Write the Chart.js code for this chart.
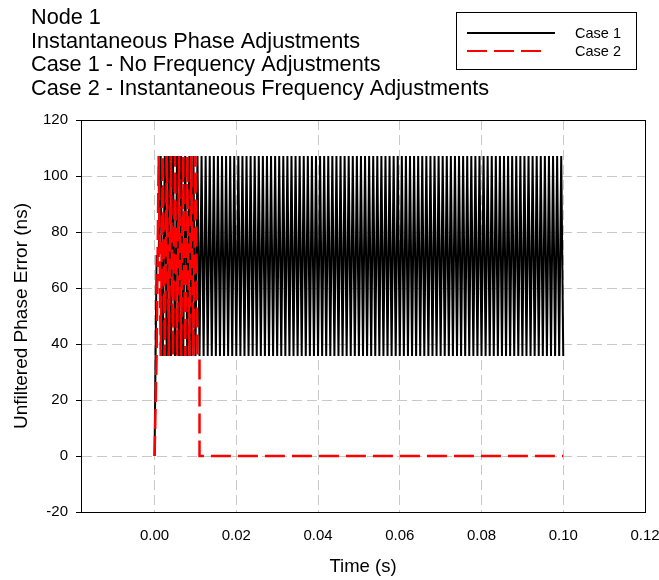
<!DOCTYPE html>
<html>
<head>
<meta charset="utf-8">
<script src="https://cdn.jsdelivr.net/npm/chart.js@4.4.1/dist/chart.umd.min.js"></script>
<style>
  html, body { margin: 0; padding: 0; background: #fff; }
  #wrap { position: relative; width: 659px; height: 580px; }
</style>
</head>
<body>
<div id="wrap"><canvas id="chart"></canvas></div>
<script>
/* ---- Header text and legend entries ---- */
const TITLE_LINES = [
  "Node 1",
  "Instantaneous Phase Adjustments",
  "Case 1 - No Frequency Adjustments",
  "Case 2 - Instantaneous Frequency Adjustments"
];
const LEGEND_LABELS = ["Case 1", "Case 2"];

/* ---- Axis ticks ---- */
const X_TICKS = [0, 0.02, 0.04, 0.06, 0.08, 0.10, 0.12];
const Y_TICKS = [-20, 0, 20, 40, 60, 80, 100, 120];

/* ---- Case 1: start-up samples, then error bouncing between two levels (time in ms, error in ns) ---- */
const CASE1_START_MS = [0, 0.5, 1.0];
const CASE1_START_NS = [0, 71.4, 71.4];
const CASE1_HIGH_NS = 107.1;
const CASE1_LOW_NS = 35.7;
const CASE1_HIGH_MS = [
  1.5, 2.5, 3.5, 4.5, 5.5, 6.5, 7.5, 8.5, 9.5, 10.5,
  11.5, 12.5, 13.5, 14.5, 15.5, 16.5, 17.5, 18.5, 19.5, 20.5,
  21.5, 22.5, 23.5, 24.5, 25.5, 26.5, 27.5, 28.5, 29.5, 30.5,
  31.5, 32.5, 33.5, 34.5, 35.5, 36.5, 37.5, 38.5, 39.5, 40.5,
  41.5, 42.5, 43.5, 44.5, 45.5, 46.5, 47.5, 48.5, 49.5, 50.5,
  51.5, 52.5, 53.5, 54.5, 55.5, 56.5, 57.5, 58.5, 59.5, 60.5,
  61.5, 62.5, 63.5, 64.5, 65.5, 66.5, 67.5, 68.5, 69.5, 70.5,
  71.5, 72.5, 73.5, 74.5, 75.5, 76.5, 77.5, 78.5, 79.5, 80.5,
  81.5, 82.5, 83.5, 84.5, 85.5, 86.5, 87.5, 88.5, 89.5, 90.5,
  91.5, 92.5, 93.5, 94.5, 95.5, 96.5, 97.5, 98.5, 99.5
];
const CASE1_LOW_MS = [
  2, 3, 4, 5, 6, 7, 8, 9, 10, 11,
  12, 13, 14, 15, 16, 17, 18, 19, 20, 21,
  22, 23, 24, 25, 26, 27, 28, 29, 30, 31,
  32, 33, 34, 35, 36, 37, 38, 39, 40, 41,
  42, 43, 44, 45, 46, 47, 48, 49, 50, 51,
  52, 53, 54, 55, 56, 57, 58, 59, 60, 61,
  62, 63, 64, 65, 66, 67, 68, 69, 70, 71,
  72, 73, 74, 75, 76, 77, 78, 79, 80, 81,
  82, 83, 84, 85, 86, 87, 88, 89, 90, 91,
  92, 93, 94, 95, 96, 97, 98, 99, 100
];
const CASE1_END_MS = [];
const CASE1_END_NS = [];

/* ---- Case 2: same bouncing until the frequency is corrected, then flat at zero ---- */
const CASE2_START_MS = [0, 0.5];
const CASE2_START_NS = [0, 35.7];
const CASE2_HIGH_NS = 107.1;
const CASE2_LOW_NS = 35.7;
const CASE2_HIGH_MS = [1, 2, 3, 4, 5, 6, 7, 8, 9, 10];
const CASE2_LOW_MS = [1.5, 2.5, 3.5, 4.5, 5.5, 6.5, 7.5, 8.5, 9.5, 10.5];
const CASE2_END_MS = [11, 11, 100];
const CASE2_END_NS = [35.7, 0, 0];

// merge start-up, bouncing and tail samples into {x: seconds, y: ns}
function buildSeries(startMs, startNs, highMs, highNs, lowMs, lowNs, endMs, endNs) {
  const pts = [];
  startMs.forEach((t, i) => pts.push({ x: t / 1000, y: startNs[i] }));
  const mid = [];
  highMs.forEach(t => mid.push({ x: t / 1000, y: highNs }));
  lowMs.forEach(t => mid.push({ x: t / 1000, y: lowNs }));
  mid.sort((a, b) => a.x - b.x);
  endMs.forEach((t, i) => mid.push({ x: t / 1000, y: endNs[i] }));
  return pts.concat(mid);
}

const case1 = buildSeries(CASE1_START_MS, CASE1_START_NS, CASE1_HIGH_MS, CASE1_HIGH_NS,
                          CASE1_LOW_MS, CASE1_LOW_NS, CASE1_END_MS, CASE1_END_NS);
const case2 = buildSeries(CASE2_START_MS, CASE2_START_NS, CASE2_HIGH_MS, CASE2_HIGH_NS,
                          CASE2_LOW_MS, CASE2_LOW_NS, CASE2_END_MS, CASE2_END_NS);

const FONT = '"Liberation Sans", Arial, sans-serif';
const GRID = "#c8c8c8";
const RED_DASH = [20, 7];
Chart.defaults.font.family = FONT;
Chart.defaults.color = "#000";

/* ---- Frame round the plot, header lines and boxed legend ---- */
const decorPlugin = {
  id: "decor",
  afterDraw(chart) {
    const { ctx, chartArea: a } = chart;
    ctx.save();
    ctx.strokeStyle = "#000";
    ctx.lineWidth = 1;
    ctx.setLineDash([]);
    ctx.strokeRect(Math.round(a.left) + 0.5, Math.round(a.top) + 0.5,
                   Math.round(a.right - a.left), Math.round(a.bottom - a.top));

    ctx.fillStyle = "#000";
    ctx.textAlign = "left";
    ctx.textBaseline = "alphabetic";
    ctx.font = "21.7px " + FONT;
    TITLE_LINES.forEach((s, i) => ctx.fillText(s, 31, 24 + i * 23.6));

    // legend
    ctx.strokeStyle = "#000";
    ctx.strokeRect(456.5, 12.5, 180, 57);
    const ds = chart.data.datasets;
    const rows = [33, 51];
    ds.forEach((d, i) => {
      ctx.beginPath();
      ctx.strokeStyle = d.borderColor;
      ctx.lineWidth = 2;
      ctx.setLineDash(d.borderDash || []);
      ctx.moveTo(467, rows[i]);
      ctx.lineTo(i === 0 ? 555 : 547, rows[i]);
      ctx.stroke();
    });
    ctx.setLineDash([]);
    ctx.font = "14.5px " + FONT;
    ctx.textBaseline = "middle";
    LEGEND_LABELS.forEach((s, i) => ctx.fillText(s, 575, rows[i] + 1));
    ctx.restore();
  }
};

new Chart(document.getElementById("chart"), {
  type: "line",
  data: {
    datasets: [
      { label: LEGEND_LABELS[0], data: case1, borderColor: "#000000", borderWidth: 2, order: 2 },
      { label: LEGEND_LABELS[1], data: case2, borderColor: "#ff0000", borderWidth: 2.5, borderDash: RED_DASH, order: 1 }
    ]
  },
  options: {
    responsive: true,
    maintainAspectRatio: false,
    animation: false,
    elements: { point: { radius: 0 }, line: { tension: 0, fill: false } },
    layout: { padding: { top: 120, right: 0, left: 0, bottom: 0 } },
    plugins: { legend: { display: false }, title: { display: false }, tooltip: { enabled: false } },
    scales: {
      x: {
        type: "linear",
        min: -0.018,
        max: 0.12,
        afterBuildTicks: s => { s.ticks = X_TICKS.map(v => ({ value: v })); },
        // the "0.12" label is allowed to run up to the page edge
        afterFit: s => { s.height = 68; s.paddingLeft = 0; s.paddingRight = 14; },
        grid: { color: GRID, drawTicks: false },
        border: { color: "#000", width: 1, dash: [10, 5] },
        ticks: { padding: 15, font: { size: 15 }, color: "#000", maxRotation: 0, autoSkip: false,
                 callback: v => Number(v).toFixed(2) },
        title: { display: true, text: "Time (s)", font: { size: 18.5 }, color: "#000",
                 padding: { top: 0, bottom: 2 } }
      },
      y: {
        min: -20,
        max: 120,
        afterBuildTicks: s => { s.ticks = Y_TICKS.map(v => ({ value: v })); },
        afterFit: s => { s.width = 81; },
        grid: { color: GRID, tickColor: "#000", tickLength: 5, tickWidth: 1, tickBorderDash: [] },
        border: { color: "#000", width: 1, dash: [10, 5] },
        ticks: { padding: 8, font: { size: 15 }, color: "#000", autoSkip: false },
        title: { display: true, text: "Unfiltered Phase Error (ns)", font: { size: 19 }, color: "#000",
                 padding: { top: 10, bottom: 0 } }
      }
    }
  },
  plugins: [decorPlugin]
});
</script>
</body>
</html>
